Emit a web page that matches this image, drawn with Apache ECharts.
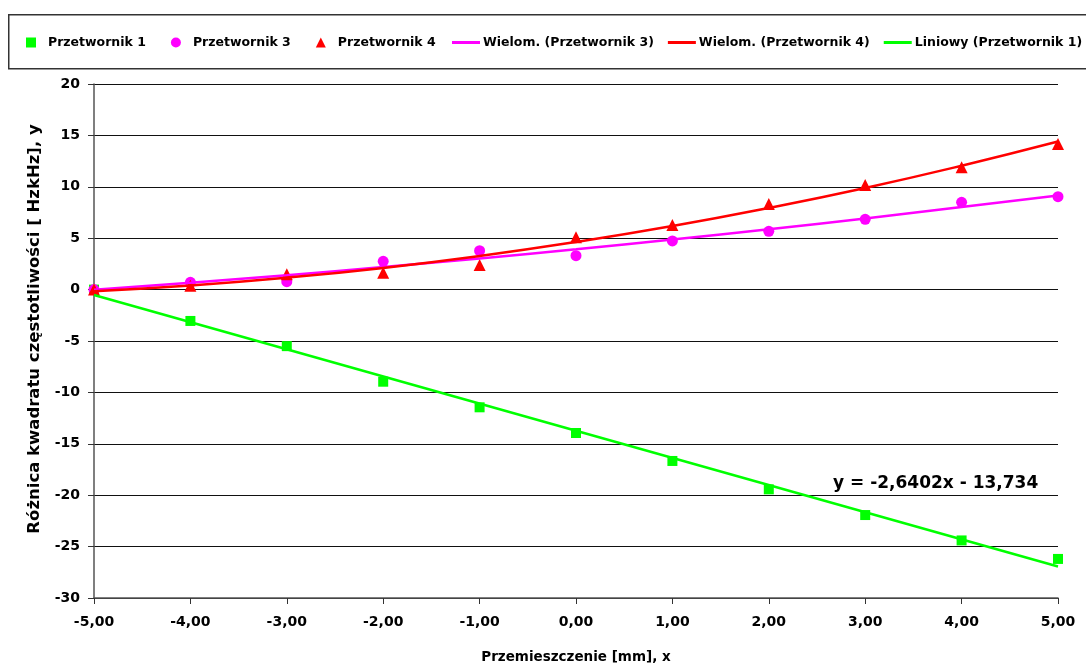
<!DOCTYPE html>
<html>
<head>
<meta charset="utf-8">
<script src="https://cdn.jsdelivr.net/npm/echarts@6/dist/echarts.min.js"></script>
<style>html,body{margin:0;padding:0;background:#fff}#c{width:1086px;height:666px}</style>
</head>
<body>
<div id="c"></div>
<script>
// ---- data ----
const xValues = [-5, -4, -3, -2, -1, 0, 1, 2, 3, 4, 5];
const p1Values = [0, -3.05, -5.5, -8.96, -11.45, -13.95, -16.67, -19.43, -21.93, -24.4, -26.2];
const p3Values = [0, 0.71, 0.77, 2.75, 3.78, 3.3, 4.73, 5.67, 6.84, 8.49, 9.04];
const p4Values = [0, 0.38, 1.49, 1.65, 2.39, 5.09, 6.28, 8.33, 10.18, 11.9, 14.16];
// trend lines as drawn in the reference
const trend3Values = [-0.01, 0.67, 1.40, 2.19, 3.03, 3.92, 4.87, 5.87, 6.92, 8.03, 9.15];
const trend4Values = [-0.16, 0.40, 1.16, 2.11, 3.27, 4.63, 6.18, 7.94, 9.89, 12.05, 14.40];
const trend1X = [-5, 5];
const trend1Values = [-0.53, -26.94];
const yTicks = [-30, -25, -20, -15, -10, -5, 0, 5, 10, 15, 20];
const seriesNames = ['Przetwornik 1', 'Przetwornik 3', 'Przetwornik 4',
  'Wielom. (Przetwornik 3)', 'Wielom. (Przetwornik 4)', 'Liniowy (Przetwornik 1)'];
const equationText = 'y = -2,6402x - 13,734';
const xAxisName = 'Przemieszczenie [mm], x';
const yAxisName = 'Różnica kwadratu częstotliwości [ HzkHz], y';

const FONT = '"DejaVu Sans", "Liberation Sans", Arial, sans-serif';
const pair = (xs, ys) => xs.map((x, i) => [x, ys[i]]);

const chart = echarts.init(document.getElementById('c'), null, {renderer: 'canvas'});
chart.setOption({
  backgroundColor: '#fff',
  animation: false,
  textStyle: {fontFamily: FONT},
  grid: {left: 94, right: 28, top: 84, bottom: 68, containLabel: false, outerBoundsMode: 'none'},
  legend: [{
    left: 26, top: 36, padding: 0, itemGap: 25, itemWidth: 10, itemHeight: 10,
    textStyle: {fontFamily: FONT, fontWeight: 'bold', fontSize: 12.5, color: '#000', padding: [0, 0, 0, 7]},
    data: [
      {name: seriesNames[0], icon: 'rect'},
      {name: seriesNames[1], icon: 'circle'},
      {name: seriesNames[2], icon: 'triangle'}
    ]
  }, {
    left: 452, top: 36, width: 700, padding: 0, itemGap: 14, itemWidth: 28, itemHeight: 3,
    textStyle: {fontFamily: FONT, fontWeight: 'bold', fontSize: 12.5, color: '#000', padding: [0, 0, 0, -2]},
    data: [
      {name: seriesNames[3], icon: 'rect'},
      {name: seriesNames[4], icon: 'rect'},
      {name: seriesNames[5], icon: 'rect'}
    ]
  }],
  graphic: [{
    type: 'rect', left: 8, top: 14, z: -1,
    shape: {width: 1090, height: 54},
    style: {fill: '#fff', stroke: '#333', lineWidth: 1.5}
  }, {
    type: 'text', left: 833, top: 475,
    style: {text: equationText, font: 'bold 17px ' + FONT, fill: '#000'}
  }],
  xAxis: {
    type: 'value', min: -5, max: 5, interval: 1,
    name: xAxisName, nameLocation: 'middle', nameGap: 52,
    nameTextStyle: {fontWeight: 'bold', fontSize: 13.5, color: '#000', fontFamily: FONT},
    axisLine: {onZero: false, lineStyle: {color: '#555', width: 1.5}},
    axisTick: {show: true, length: 6, lineStyle: {color: '#333'}},
    axisLabel: {margin: 17, fontWeight: 'bold', fontSize: 14, color: '#000', fontFamily: FONT,
      formatter: v => v.toFixed(2).replace('.', ',')},
    splitLine: {show: false}
  },
  yAxis: {
    type: 'value', min: yTicks[0], max: yTicks[yTicks.length - 1], interval: 5,
    name: yAxisName, nameLocation: 'middle', nameGap: 51, nameRotate: 90,
    nameTextStyle: {fontWeight: 'bold', fontSize: 16.5, color: '#000', fontFamily: FONT, padding: [0, 0, 0, 24]},
    axisLine: {show: true, onZero: false, lineStyle: {color: '#555', width: 1.5}},
    axisTick: {show: true, length: 6, lineStyle: {color: '#333'}},
    axisLabel: {margin: 14, fontWeight: 'bold', fontSize: 14, color: '#000', fontFamily: FONT},
    splitLine: {show: true, lineStyle: {color: '#111', width: 1}}
  },
  series: [
    {name: seriesNames[0], type: 'scatter', symbol: 'rect', symbolSize: 10, z: 3,
     itemStyle: {color: '#00FF00', opacity: 1}, data: pair(xValues, p1Values)},
    {name: seriesNames[1], type: 'scatter', symbol: 'circle', symbolSize: 11, z: 3,
     itemStyle: {color: '#FF00FF', opacity: 1}, data: pair(xValues, p3Values)},
    {name: seriesNames[2], type: 'scatter', symbol: 'triangle', symbolSize: 12, z: 3,
     itemStyle: {color: '#FF0000', opacity: 1}, data: pair(xValues, p4Values)},
    {name: seriesNames[3], type: 'line', smooth: true, showSymbol: false, symbol: 'none', z: 4,
     lineStyle: {color: '#FF00FF', width: 2.5}, itemStyle: {color: '#FF00FF'}, data: pair(xValues, trend3Values)},
    {name: seriesNames[4], type: 'line', smooth: true, showSymbol: false, symbol: 'none', z: 4,
     lineStyle: {color: '#FF0000', width: 2.5}, itemStyle: {color: '#FF0000'}, data: pair(xValues, trend4Values)},
    {name: seriesNames[5], type: 'line', showSymbol: false, symbol: 'none', z: 4,
     lineStyle: {color: '#00FF00', width: 2.5}, itemStyle: {color: '#00FF00'}, data: pair(trend1X, trend1Values)}
  ]
});
</script>
</body>
</html>
